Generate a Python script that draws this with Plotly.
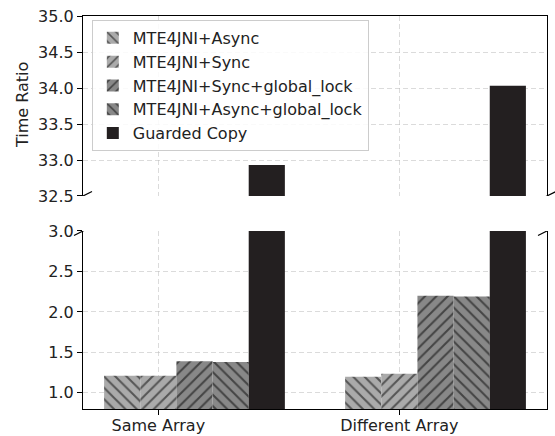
import plotly.graph_objects as go

categories = ["Same Array", "Different Array"]
series_names = ["MTE4JNI+Async", "MTE4JNI+Sync", "MTE4JNI+Sync+global_lock",
                "MTE4JNI+Async+global_lock", "Guarded Copy"]
values_async = [1.21, 1.20]
values_sync = [1.21, 1.235]
values_sync_lock = [1.39, 2.20]
values_async_lock = [1.38, 2.19]
values_guarded = [32.93, 34.03]
top_ticks = [32.5, 33.0, 33.5, 34.0, 34.5, 35.0]
bottom_ticks = [1.0, 1.5, 2.0, 2.5, 3.0]

series_values = [values_async, values_sync, values_sync_lock, values_async_lock, values_guarded]
colors = ["#aaaaaa", "#aaaaaa", "#888888", "#888888", "#231f20"]
patterns = ["\\", "/", "/", "\\", ""]

bar_w = 0.15
cat_x = list(range(len(categories)))

fig = go.Figure()
for panel in ["top", "bottom"]:
    for i, (name, vals) in enumerate(zip(series_names, series_values)):
        marker = dict(color=colors[i], line=dict(width=0))
        if patterns[i]:
            marker["pattern"] = dict(shape=patterns[i], fillmode="overlay",
                                     fgcolor="#000000", size=8, solidity=0.25)
        fig.add_trace(go.Bar(
            x=cat_x, y=vals, name=name,
            offset=(i - 1) * bar_w - bar_w / 2, width=bar_w,
            marker=marker,
            showlegend=(panel == "top"),
            legendgroup=name,
            xaxis="x" if panel == "top" else "x2",
            yaxis="y" if panel == "top" else "y2",
        ))

grid_color = "rgba(184,184,184,0.5)"
font = dict(family="DejaVu Sans", size=16, color="#222222")
xr = [-0.3125, 1.6125]

fig.update_layout(
    width=555, height=436,
    margin=dict(l=83, r=8, t=16, b=27),
    paper_bgcolor="white", plot_bgcolor="white",
    barmode="overlay",
    font=font,
    xaxis=dict(domain=[0, 1], anchor="y", range=xr, tickvals=cat_x, showticklabels=False,
               ticks="", showgrid=True, gridcolor=grid_color, griddash="5px,3px",
               showline=True, linecolor="#000000", linewidth=1.2, side="top",
               layer="above traces", zeroline=False, automargin=False),
    yaxis=dict(domain=[0.542, 1], anchor="x", range=[32.5, 35.0], tickvals=top_ticks,
               tickformat=".1f", ticks="outside", ticklen=5, tickcolor="#000000",
               showgrid=True, gridcolor=grid_color, griddash="5px,3px",
               showline=True, mirror=True, linecolor="#000000", linewidth=1.2,
               layer="above traces", zeroline=False, automargin=False),
    xaxis2=dict(domain=[0, 1], anchor="y2", range=xr, tickvals=cat_x, ticktext=categories,
                ticks="outside", ticklen=5, tickcolor="#000000", ticklabelstandoff=-3,
                showgrid=True, gridcolor=grid_color, griddash="5px,3px",
                showline=True, linecolor="#000000", linewidth=1.2,
                layer="above traces", zeroline=False, automargin=False),
    yaxis2=dict(domain=[0, 0.453], anchor="x2", range=[0.8, 3.0], tickvals=bottom_ticks,
                tickformat=".1f", ticks="outside", ticklen=5, tickcolor="#000000",
                showgrid=True, gridcolor=grid_color, griddash="5px,3px",
                showline=True, mirror=True, linecolor="#000000", linewidth=1.2,
                layer="above traces", zeroline=False, automargin=False),
    legend=dict(x=0.019, y=0.99, xanchor="left", yanchor="top",
                bgcolor="rgba(255,255,255,0.85)", bordercolor="#cccccc", borderwidth=1,
                font=font, tracegroupgap=3, traceorder="normal"),
)

fig.add_annotation(text="Time Ratio", xref="paper", yref="paper",
                   x=-0.1315, y=0.7735, xanchor="center", yanchor="middle",
                   textangle=-90, showarrow=False, font=font)

# break marks
for xa in [0, 1]:
    for yref, ya in [("y", 32.5), ("y2", 3.0)]:
        fig.add_shape(type="line", xref="paper", yref=yref,
                      xsizemode="pixel", xanchor=xa, x0=-9, x1=9,
                      ysizemode="pixel", yanchor=ya, y0=-4.5, y1=4.5,
                      line=dict(color="#000000", width=1.2))

fig.write_html("out.html", config={"displayModeBar": False},
               post_script="document.body.style.margin='0';document.body.style.overflow='hidden';")
